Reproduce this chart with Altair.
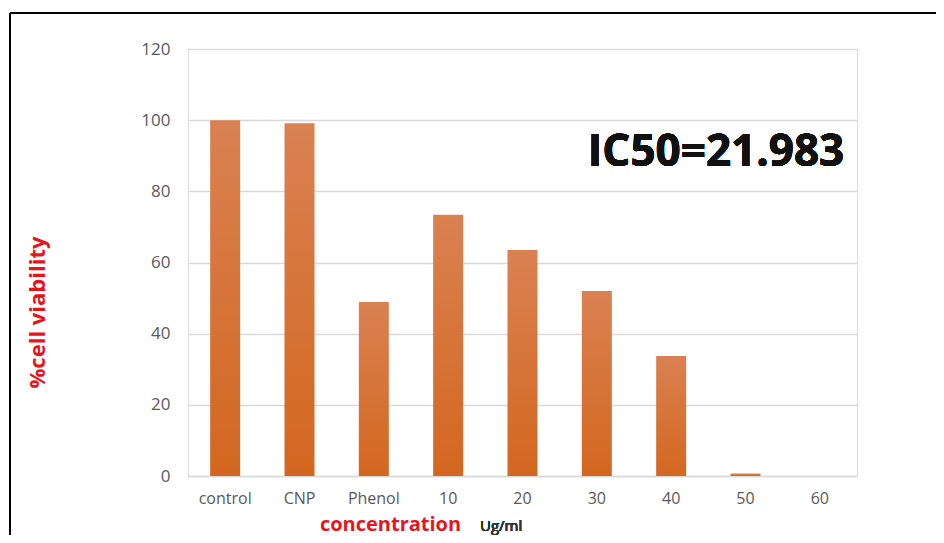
import altair as alt
import pandas as pd

categories = ["control", "CNP", "Phenol", "10", "20", "30", "40", "50", "60"]
viability = [100, 99.1, 48.9, 73.4, 63.5, 52.0, 33.7, 0.7, 0.0]

df = pd.DataFrame({"concentration": categories, "viability": viability})

grad = alt.LinearGradient(
    gradient="linear",
    stops=[
        alt.GradientStop(color="#DA8152", offset=0),
        alt.GradientStop(color="#D3671F", offset=1),
    ],
    x1=0, x2=0, y1=0, y2=1,
)

base = alt.Chart(df)

bars = base.mark_bar(color=grad, size=30).encode(
    x=alt.X(
        "concentration:N",
        sort=categories,
        scale=alt.Scale(paddingInner=0.6, paddingOuter=0.3),
        axis=alt.Axis(
            title="concentration",
            titleColor="#E8141B",
            titleFont="Open Sans",
            titleFontSize=20,
            titleFontWeight="bold",
            titleAnchor="start",
            titleAlign="center",
            titleX=202,
            titleY=48,
            titleBaseline="middle",
            labelAngle=0,
            labelColor="#595959",
            labelFont="Open Sans",
            labelFontSize=16,
            labelPadding=14,
            ticks=False,
            domainColor="#D9D9D9",
            domainWidth=1.5,
        ),
    ),
    y=alt.Y(
        "viability:Q",
        scale=alt.Scale(domain=[0, 120]),
        axis=alt.Axis(
            values=[0, 20, 40, 60, 80, 100, 120],
            title="%cell viability",
            titleColor="#E8141B",
            titleFont="Open Sans",
            titleFontSize=22,
            titleFontWeight="bold",
            titleAnchor="middle",
            titleX=-151,
            titleY=263,
            titleBaseline="middle",
            titleAngle=-90,
            labelColor="#595959",
            labelFont="Open Sans",
            labelFontSize=17,
            labelPadding=18,
            ticks=False,
            domain=False,
            gridColor="#D9D9D9",
            gridWidth=1.5,
        ),
    ),
)

ic50 = base.mark_text(
    text="IC50=21.983", font="Open Sans", fontSize=44, fontWeight="bold",
    color="#111111", align="center", baseline="alphabetic",
).encode(x=alt.value(528), y=alt.value(117))

unit = base.mark_text(
    text="Ug/ml", font="Open Sans", fontSize=15, color="#333333",
    fontWeight="normal", align="left", baseline="middle",
).encode(x=alt.value(292), y=alt.value(477))

frame_top = base.mark_rule(color="#000000", strokeWidth=2).encode(
    x=alt.value(-178), x2=alt.value(760), y=alt.value(-36)
)
frame_left = base.mark_rule(color="#000000", strokeWidth=2).encode(
    x=alt.value(-178), y=alt.value(-36), y2=alt.value(500)
)

chart = alt.layer(bars, ic50, unit, frame_top, frame_left).properties(
    width=669,
    height=427,
    autosize=alt.AutoSizeParams(type="none"),
    padding={"left": 180, "top": 41, "right": 79, "bottom": 59},
).configure_view(stroke=None).configure(background="white")

chart.save("out.html", embed_options={"renderer": "svg", "actions": False})
